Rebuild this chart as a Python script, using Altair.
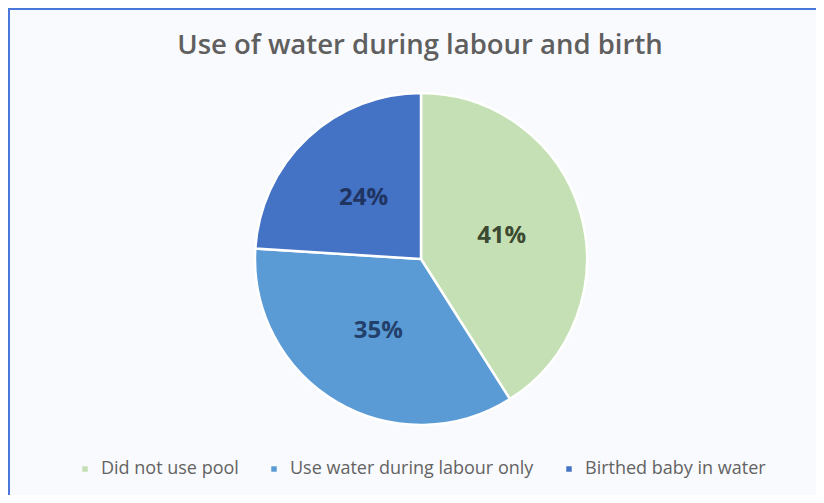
import altair as alt
import pandas as pd

categories = ["Did not use pool", "Use water during labour only", "Birthed baby in water"]
values = [41, 35, 24]
labels = ["41%", "35%", "24%"]
slice_colors = ["#C5E0B4", "#5B9BD5", "#4472C4"]
label_colors = ["#3B4A30", "#22406A", "#1F3461"]

df = pd.DataFrame({
    "category": categories,
    "value": values,
    "label": labels,
    "idx": list(range(len(categories))),
    "labcol": label_colors,
})

W, H = 808, 487
CX, CY = 413, 251
R = 166

base = alt.Chart(df).encode(
    theta=alt.Theta("value:Q", stack=True),
    order=alt.Order("idx:Q"),
)

pie = base.mark_arc(radius=R, stroke="white", strokeWidth=2.5).encode(
    x=alt.value(CX),
    y=alt.value(CY),
    color=alt.Color(
        "category:N",
        scale=alt.Scale(domain=categories, range=slice_colors),
        sort=categories,
        legend=alt.Legend(
            title=None,
            orient="none",
            legendX=68,
            legendY=452,
            direction="horizontal",
            symbolType="square",
            symbolSize=30,
            symbolStrokeWidth=0,
            labelFontSize=18,
            labelFont="Open Sans",
            labelColor="#636363",
            labelLimit=0,
            columnPadding=26,
            labelOffset=7,
        ),
    ),
)

text = base.mark_text(radius=84, fontSize=24, fontWeight="bold", font="Open Sans").encode(
    x=alt.value(CX),
    y=alt.value(CY),
    text="label:N",
    color=alt.Color("labcol:N", scale=None),
)

top_rule = alt.Chart(df).mark_rule(color="#4A78DA", strokeWidth=2).encode(
    x=alt.value(0), x2=alt.value(W), y=alt.value(1)
)
left_rule = alt.Chart(df).mark_rule(color="#4A78DA", strokeWidth=2).encode(
    x=alt.value(1), y=alt.value(0), y2=alt.value(H)
)

chart = alt.layer(pie, text, top_rule, left_rule).resolve_scale(
    color="independent"
).properties(
    width=W,
    height=H,
    autosize=alt.AutoSizeParams(type="none"),
    padding=0,
    background="#F9FAFD",
    title=alt.TitleParams(
        text="Use of water during labour and birth",
        fontSize=27.5,
        font="Open Sans",
        fontWeight=600,
        color="#5F5F5F",
        anchor="middle",
        frame="group",
        offset=0,
        baseline="middle",
        dy=66,
        dx=8,
    ),
).configure_view(stroke=None)

chart.save("out.html", embed_options={"renderer": "svg", "actions": False})
